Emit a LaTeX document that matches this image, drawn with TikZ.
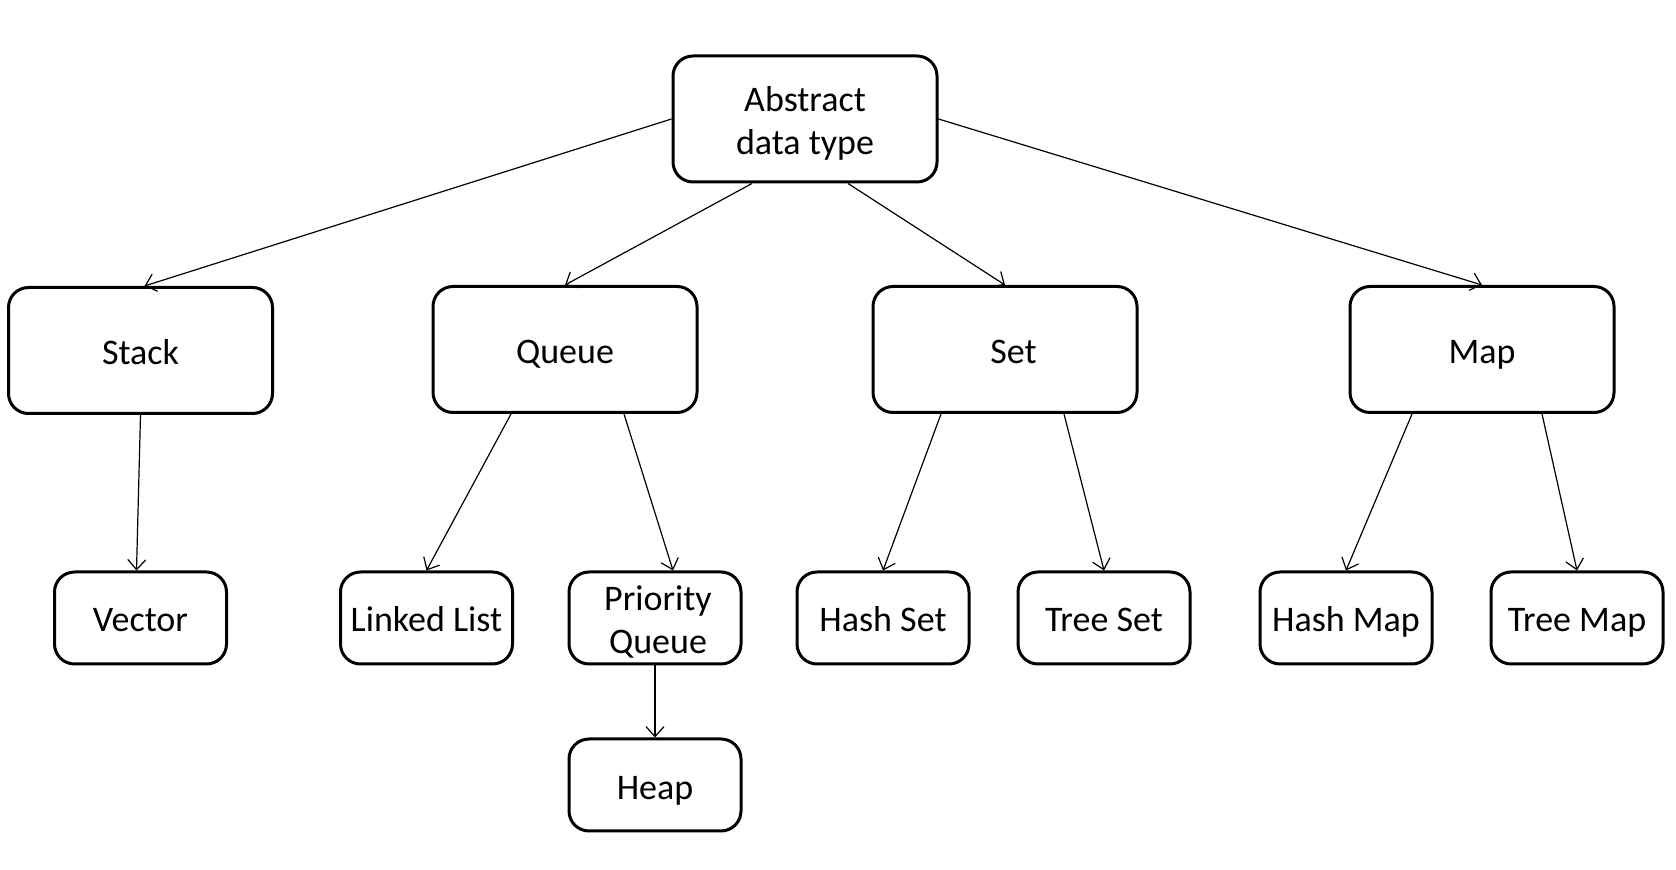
\documentclass[tikz,border=0pt]{standalone}
\usepackage{fontspec}
\setmainfont{Carlito}
\usetikzlibrary{arrows.meta,calc}
\begin{document}
\begin{tikzpicture}[x=0.5pt,y=-0.5pt,
  box/.style={draw,line width=1.5pt,rounded corners=10pt,align=center,inner sep=0pt,text height=14pt,text depth=0pt,font=\fontsize{18}{21.5}\selectfont},
  twoline/.style={text height=35.5pt},
  bigbox/.style={box,minimum width=132pt,minimum height=63pt},
  smallbox/.style={box,minimum width=86pt,minimum height=46pt},
  conn/.style={line width=0.6pt,-{Straight Barb[length=5pt,width=9pt]}}]
\useasboundingbox (0,0) rectangle (1676,870);
\node[bigbox,twoline] (abs) at (805,119) {Abstract\\data type};
\node[bigbox] (stack) at (140.5,350.5) {Stack};
\node[bigbox] (queue) at (565,349.5) {Queue};
\node[bigbox] (set) at (1005,349.5) {\hspace*{8.5pt}Set};
\node[bigbox] (map) at (1482,349.5) {Map};
\node[smallbox] (vector) at (140.5,618) {Vector};
\node[smallbox] (linked) at (426.5,618) {Linked List};
\node[smallbox,twoline] (pq) at (655,618) {\hspace*{3pt}Priority\\\hspace*{3pt}Queue};
\node[smallbox] (heap) at (655,785) {Heap};
\node[smallbox] (hashset) at (883,618) {Hash Set};
\node[smallbox] (treeset) at (1104,618) {Tree Set};
\node[smallbox] (hashmap) at (1346,618) {Hash Map};
\node[smallbox] (treemap) at (1577,618) {Tree Map};
\draw[conn] (abs.west) -- ([xshift=2pt]stack.north);
\draw[conn] ([xshift=-26.5pt]abs.south) -- (queue.north);
\draw[conn] ([xshift=21.5pt]abs.south) -- (set.north);
\draw[conn] (abs.east) -- (map.north);
\draw[conn] (stack.south) -- ([xshift=-2pt]vector.north);
\draw[conn] ([xshift=-27pt]queue.south) -- (linked.north);
\draw[conn] ([xshift=29.5pt]queue.south) -- ([xshift=9pt]pq.north);
\draw[conn] ([xshift=-32pt]set.south) -- (hashset.north);
\draw[conn] ([xshift=29.5pt]set.south) -- (treeset.north);
\draw[conn] ([xshift=-35pt]map.south) -- (hashmap.north);
\draw[conn] ([xshift=30pt]map.south) -- (treemap.north);
\draw[conn] (pq.south) -- (heap.north);
\end{tikzpicture}
\end{document}
